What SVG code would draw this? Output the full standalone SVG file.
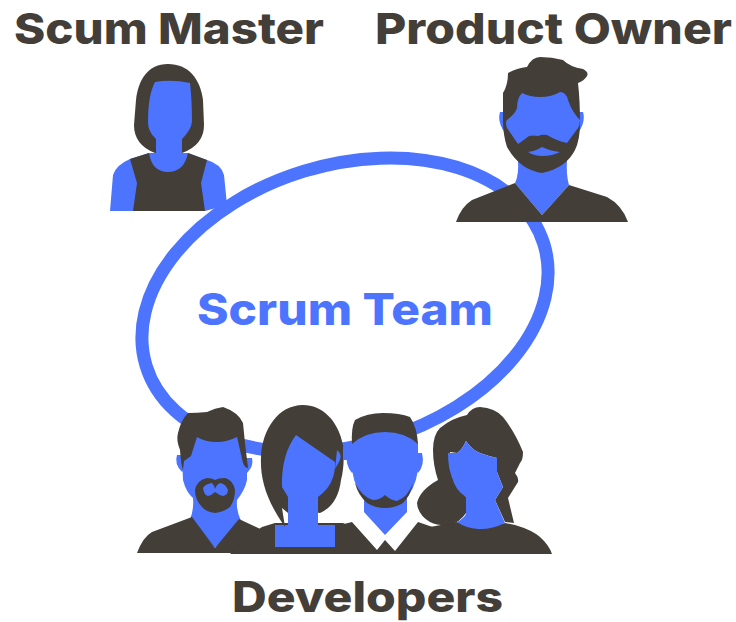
<svg xmlns="http://www.w3.org/2000/svg" width="736" height="622" viewBox="0 0 736 622">
<style>
.d{fill:#433e38}
.b{fill:#4c74ff}
text{font-family:"Inter","Liberation Sans",sans-serif;font-weight:800}
.t{font-size:43px;fill:#433e38}
.s{font-size:44px;fill:#4c74ff}
</style>
<rect width="736" height="622" fill="#fff"/>
<g id="connectors">
<ellipse id="team-ring" cx="345" cy="305" rx="208" ry="140" transform="rotate(-17 345 305)" fill="none" stroke="#4c74ff" stroke-width="13"/>
</g>
<g id="scrum-team-label"><text class="s" x="197" y="325" textLength="296" lengthAdjust="spacingAndGlyphs">Scrum Team</text></g>
<g id="scrum-master">
<text class="t" x="14" y="44" textLength="310" lengthAdjust="spacingAndGlyphs">Scum Master</text>
<path class="b" d="M110 211L113 175Q116 165 130 159L149 153L188 153L207 160Q221 164 224 175L227 205L205 211Z"/>
<path class="d" d="M168 64C148 64 138 80 136 100L134 125Q134 145 155 153L182 153Q204 145 204 125L203 100C200 78 188 64 168 64Z"/>
<path class="b" d="M155 82Q172 79 190 83Q192 100 192 122Q191 130 182 139V153H188Q184 172 168 172Q152 172 149 153H156V139Q148 132 148 122Q148 95 155 82Z"/>
<path class="d" d="M130 159L149 153Q152 172 168 172Q184 172 188 153L207 160L201 183L205 211H133L137 183Z"/>
</g>
<g id="product-owner">
<text class="t" x="375" y="44" textLength="357" lengthAdjust="spacingAndGlyphs">Product Owner</text>
<path class="b" d="M500 112Q497 122 505 133L510 125V112ZM583 112Q586 122 578 133L574 125V112Z"/>
<path class="b" d="M518 160Q519 175 515 183L542 215L569 185Q566 175 567 160Z"/>
<path class="d" d="M456 222Q461 207 472 200L515 183L542 215L569 185L607 197Q622 205 628 222Z"/>
<path class="d" d="M503 93Q508 85 508 73Q517 68 527 67Q532 57 540 57Q552 57 563 60Q570 67 583 69Q589 72 587 76Q584 81 578 83Q580 100 580 123Q580 140 575 150Q566 168 542 173Q520 170 507 147Q503 135 503 120Z"/>
<path class="b" d="M522 93Q530 97 540 97Q552 97 560 92Q566 92 568 100Q572 112 580 120Q580 125 578 128L567 143Q557 141 547 135Q542 134 538 136Q533 135 529 136Q524 140 518 144L507 128Q505 122 507 120Q516 113 517 108Q517 98 522 93Z"/>
<path class="b" d="M528 152Q536 151 542 147Q550 151 560 152Q552 156 543 156Q534 156 528 152Z"/>
</g>
<g id="dev-1">
<path class="b" d="M177 455Q174 464 182 472L186 468V455ZM252 458Q254 466 247 473L244 468V458Z"/>
<path class="b" d="M182 455L183 480Q186 492 193 498Q194 510 190 519L215 548L241 521Q236 510 237 500Q245 490 247 480L247 460L237 435L197 435Z"/>
<path class="d" d="M137 553Q143 537 152 532L192 517L215 548L239 519L273 535Q285 542 290 553Z"/>
<path class="d" d="M180 450Q176 440 178 433Q181 420 188 413Q197 413 207 412Q215 408 223 407Q238 412 243 423L245 443L248 468Q245 468 243 463L237 437Q227 442 217 442Q205 442 197 437L191 456Q187 459 184 461L183 470Q181 465 180 450Z"/>
<path class="d" fill-rule="evenodd" d="M195 490Q197 480 207 478Q212 478 215 480Q218 478 225 478Q233 480 235 490Q235 500 230 507Q224 512 215 513Q206 512 202 507Q195 500 195 490ZM203 488Q204 495 208 496Q212 495 215 492Q219 495 223 496Q228 495 228 490Q226 484 220 483Q216 485 215 489Q214 485 212 483Q205 484 203 488Z"/>
</g>
<g id="dev-2">
<path class="d" d="M262 527L275 523H343L350 526V554H230Q250 535 262 527Z"/>
<path class="b" d="M275 525H335V547H275Z"/>
<path class="d" d="M303 405C278 405 262 430 261 457C260 478 266 500 285 527L282 508L288 513L300 510L320 513Q338 505 341 480Q345 465 343 445C338 420 322 405 303 405Z"/>
<path class="b" d="M296 435L335 462Q336 484 318 497V527H288V497L282 487Q281 455 296 435Z"/>
<path class="b" d="M337 450Q343 455 339 462L335 469Z"/>
</g>
<g id="dev-3">
<path class="b" d="M343 447H350V460H343Z"/>
<path class="d" d="M340 525L352 522L377 550L385 540L395 551L418 522L450 533Q460 542 463 554H340Z"/>
<path class="b" d="M347 453Q345 465 352 473L358 465V453ZM422 453Q425 465 418 473L414 465V453Z"/>
<path class="b" d="M364 490V512L385 535L407 512V490Z"/>
<path class="b" d="M352 443Q365 431 385 431Q405 431 418 443V470Q415 490 403 503Q385 510 367 503Q355 490 352 470Z"/>
<path class="d" d="M352 444Q351 428 355 420Q367 413 383 413Q400 413 410 417Q417 427 418 444Q405 432 385 432Q365 432 352 444Z"/>
<path class="d" d="M355 483Q362 497 373 500Q380 500 385 495Q390 500 397 501Q408 497 413 483Q410 496 403 503Q395 508 385 508Q375 508 367 503Q358 495 355 483Z"/>
</g>
<g id="dev-4">
<path class="d" d="M430 527L457 522L480 529L505 523L515 525Q532 530 540 537Q549 545 552 554H433Z"/>
<path class="d" d="M433 450Q433 435 440 428Q452 418 467 415Q472 407 480 407Q495 408 503 417Q515 432 523 452Q523 460 520 463L515 473Q519 478 518 482L508 498L514 523L505 522L495 500L503 487L497 472V458Q488 456 480 453Q472 450 466 441Q462 450 457 453L450 452L452 477L466 497V513Q460 522 450 525Q438 526 430 522Q418 515 417 503Q420 490 438 480Q433 465 433 450Z"/>
<path class="b" d="M448 453L457 453Q462 450 466 441Q472 450 480 453Q488 456 497 458V472L503 487L495 500L505 523Q493 529 480 529Q467 529 457 522Q466 517 466 513V497Q455 490 452 477Q448 468 448 453Z"/>
</g>
<g id="developers-label"><text class="t" style="font-size:42px" x="232" y="612" textLength="271" lengthAdjust="spacingAndGlyphs">Developers</text></g>
</svg>
